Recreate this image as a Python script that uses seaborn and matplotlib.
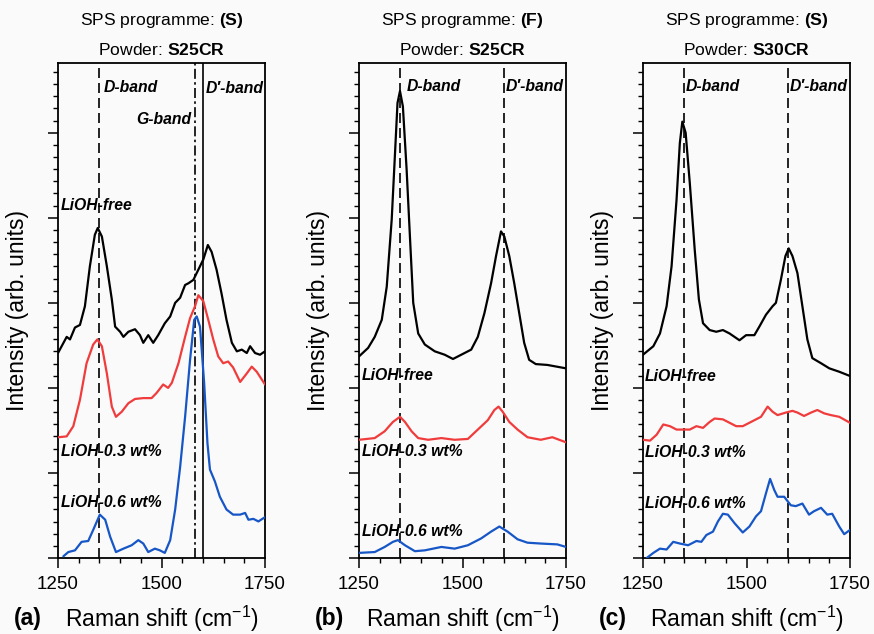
import numpy as np
import pandas as pd
import matplotlib
matplotlib.use("Agg")
import matplotlib.pyplot as plt
from matplotlib.ticker import MultipleLocator, AutoMinorLocator
import seaborn as sns

# ---------------- data ----------------
# Panel (a): SPS (S), powder S25CR
a_free_x = [1250, 1271, 1279, 1291, 1303, 1315, 1327, 1339, 1346, 1356, 1368, 1380, 1388, 1400, 1408,
            1420, 1436, 1448, 1456, 1468, 1480, 1492, 1508, 1521, 1533, 1545, 1557, 1565, 1577, 1589,
            1601, 1612, 1621, 1633, 1645, 1657, 1670, 1682, 1694, 1706, 1714, 1726, 1738, 1750]
a_free_y = [2.41, 2.60, 2.57, 2.71, 2.74, 2.96, 3.43, 3.80, 3.88, 3.78, 3.43, 3.04, 2.72, 2.66, 2.60,
            2.66, 2.69, 2.62, 2.53, 2.62, 2.53, 2.62, 2.76, 2.84, 3.00, 3.06, 3.21, 3.23, 3.27, 3.39,
            3.51, 3.68, 3.60, 3.39, 3.11, 2.80, 2.53, 2.43, 2.45, 2.41, 2.49, 2.41, 2.39, 2.43]
a_03_x = [1251, 1271, 1287, 1303, 1319, 1335, 1345, 1356, 1368, 1380, 1390, 1404, 1420, 1436, 1456,
          1476, 1488, 1504, 1516, 1525, 1541, 1557, 1569, 1581, 1589, 1601, 1613, 1625, 1637, 1649,
          1661, 1673, 1690, 1706, 1718, 1730, 1750]
a_03_y = [1.42, 1.43, 1.55, 1.86, 2.29, 2.51, 2.57, 2.49, 2.17, 1.78, 1.66, 1.72, 1.82, 1.87, 1.88,
          1.88, 1.94, 2.04, 2.00, 2.06, 2.29, 2.60, 2.82, 2.96, 3.09, 3.02, 2.80, 2.57, 2.37, 2.29,
          2.31, 2.24, 2.07, 2.17, 2.25, 2.19, 2.04]
a_06_x = [1263, 1275, 1291, 1307, 1323, 1335, 1351, 1364, 1376, 1390, 1408, 1428, 1444, 1456, 1468,
          1484, 1496, 1508, 1521, 1533, 1545, 1557, 1569, 1579, 1585, 1593, 1603, 1611, 1617, 1629,
          1641, 1657, 1673, 1690, 1702, 1710, 1722, 1734, 1750]
a_06_y = [0.02, 0.07, 0.09, 0.19, 0.20, 0.33, 0.51, 0.45, 0.25, 0.07, 0.11, 0.15, 0.21, 0.17, 0.07,
          0.11, 0.09, 0.06, 0.21, 0.57, 1.07, 1.66, 2.33, 2.80, 2.84, 2.72, 2.06, 1.35, 1.04, 0.90,
          0.72, 0.57, 0.51, 0.51, 0.53, 0.45, 0.46, 0.43, 0.48]

# Panel (b): SPS (F), powder S25CR
b_free_x = [1250, 1272, 1288, 1305, 1317, 1329, 1337, 1343, 1349, 1356, 1365, 1373, 1381, 1393, 1409,
            1433, 1457, 1477, 1497, 1521, 1537, 1553, 1569, 1581, 1593, 1601, 1613, 1625, 1637, 1649,
            1661, 1677, 1705, 1750]
b_free_y = [2.37, 2.47, 2.60, 2.80, 3.19, 3.98, 4.76, 5.35, 5.49, 5.31, 4.57, 3.78, 3.00, 2.64, 2.51,
            2.43, 2.39, 2.34, 2.39, 2.45, 2.60, 2.88, 3.23, 3.55, 3.84, 3.78, 3.55, 3.23, 2.88, 2.53,
            2.33, 2.28, 2.27, 2.23]
b_03_x = [1250, 1288, 1312, 1332, 1349, 1361, 1377, 1393, 1417, 1449, 1481, 1513, 1537, 1561, 1577,
          1587, 1597, 1613, 1633, 1657, 1689, 1717, 1750]
b_03_y = [1.39, 1.41, 1.49, 1.60, 1.66, 1.60, 1.49, 1.41, 1.39, 1.41, 1.39, 1.40, 1.51, 1.62, 1.74,
          1.78, 1.72, 1.60, 1.51, 1.42, 1.39, 1.42, 1.36]
b_06_x = [1250, 1288, 1312, 1332, 1344, 1361, 1385, 1409, 1449, 1481, 1513, 1545, 1569, 1589, 1609,
          1633, 1657, 1689, 1729, 1750]
b_06_y = [0.06, 0.07, 0.13, 0.19, 0.21, 0.15, 0.08, 0.09, 0.13, 0.11, 0.15, 0.23, 0.31, 0.37, 0.31,
          0.22, 0.18, 0.17, 0.16, 0.13]

# Panel (c): SPS (S), powder S30CR
c_free_x = [1250, 1275, 1291, 1307, 1319, 1331, 1339, 1345, 1353, 1363, 1375, 1385, 1395, 1411, 1427,
            1443, 1459, 1471, 1483, 1499, 1519, 1531, 1547, 1563, 1571, 1583, 1594, 1602, 1611, 1623,
            1635, 1647, 1659, 1680, 1700, 1724, 1750]
c_free_y = [2.39, 2.49, 2.64, 2.96, 3.43, 4.21, 4.88, 5.13, 5.00, 4.41, 3.62, 3.04, 2.76, 2.68, 2.66,
            2.68, 2.64, 2.60, 2.56, 2.62, 2.62, 2.72, 2.86, 2.96, 3.00, 3.27, 3.55, 3.64, 3.55, 3.35,
            2.96, 2.57, 2.35, 2.29, 2.23, 2.19, 2.14]
c_03_x = [1250, 1267, 1283, 1299, 1315, 1331, 1347, 1363, 1379, 1395, 1411, 1423, 1443, 1459, 1475,
          1491, 1507, 1523, 1535, 1551, 1563, 1575, 1595, 1611, 1623, 1639, 1656, 1671, 1688, 1704,
          1724, 1750]
c_03_y = [1.39, 1.38, 1.45, 1.57, 1.55, 1.51, 1.51, 1.51, 1.55, 1.53, 1.60, 1.64, 1.63, 1.59, 1.55,
          1.55, 1.59, 1.63, 1.66, 1.78, 1.72, 1.68, 1.71, 1.73, 1.71, 1.67, 1.71, 1.74, 1.70, 1.68,
          1.66, 1.59]
c_06_x = [1259, 1275, 1291, 1307, 1323, 1339, 1359, 1379, 1391, 1403, 1419, 1431, 1443, 1455, 1471,
          1491, 1507, 1523, 1535, 1547, 1557, 1567, 1575, 1591, 1607, 1619, 1635, 1651, 1663, 1680,
          1695, 1707, 1724, 1736, 1750]
c_06_y = [0.00, 0.06, 0.11, 0.10, 0.19, 0.17, 0.15, 0.20, 0.19, 0.27, 0.31, 0.43, 0.52, 0.51, 0.41,
          0.30, 0.37, 0.49, 0.55, 0.76, 0.93, 0.80, 0.72, 0.72, 0.62, 0.61, 0.64, 0.51, 0.55, 0.59,
          0.51, 0.52, 0.37, 0.28, 0.33]

samples = ["LiOH-free", "LiOH-0.3 wt%", "LiOH-0.6 wt%"]
colors = {"LiOH-free": "#000000", "LiOH-0.3 wt%": "#f03c3c", "LiOH-0.6 wt%": "#1656c6"}
programmes = ["S", "F", "S"]
powders = ["S25CR", "S25CR", "S30CR"]
panel_tags = ["(a)", "(b)", "(c)"]
xticks = [1250, 1500, 1750]

panels = [
    [(a_free_x, a_free_y), (a_03_x, a_03_y), (a_06_x, a_06_y)],
    [(b_free_x, b_free_y), (b_03_x, b_03_y), (b_06_x, b_06_y)],
    [(c_free_x, c_free_y), (c_03_x, c_03_y), (c_06_x, c_06_y)],
]

# ---------------- style ----------------
sns.set_theme(style="ticks")
FONT = ["Liberation Sans", "DejaVu Sans"]
plt.rcParams["font.family"] = FONT
plt.rcParams["mathtext.fontset"] = "custom"
plt.rcParams["mathtext.rm"] = "Liberation Sans"
plt.rcParams["mathtext.bf"] = "Liberation Sans:bold"
plt.rcParams["mathtext.it"] = "Liberation Sans:italic"
for key in ["text.color", "axes.labelcolor", "xtick.color", "ytick.color", "axes.edgecolor"]:
    plt.rcParams[key] = "black"
plt.rcParams["lines.solid_joinstyle"] = "round"
plt.rcParams["lines.solid_capstyle"] = "round"

BG = "#fafafa"
fig = plt.figure(figsize=(8.74, 6.34), dpi=100, facecolor=BG)
W, H = 874, 634
lefts = [58, 359, 643]
ax_w = 207
ax_top, ax_bot = 63, 558

lab_kw = dict(fontsize=11.3, fontweight="bold", fontstyle="italic", va="center", ha="left",
              color="black")

for i, ax_left in enumerate(lefts):
    ax = fig.add_axes([ax_left / W, 1 - ax_bot / H, ax_w / W, (ax_bot - ax_top) / H])
    ax.set_facecolor(BG)
    frames = []
    for s, (xs, ys) in zip(samples, panels[i]):
        frames.append(pd.DataFrame({"x": xs, "y": ys, "sample": s}))
    df = pd.concat(frames, ignore_index=True)
    sns.lineplot(data=df, x="x", y="y", hue="sample", palette=colors, hue_order=samples,
                 estimator=None, sort=False, legend=False, linewidth=1.6, ax=ax, zorder=3)
    for ln in ax.get_lines():
        ln.set_solid_joinstyle("round")

    # band markers
    ax.axvline(1350, color="black", lw=1.2, dashes=(6, 3), zorder=2)
    if i == 0:
        ax.axvline(1580, color="black", lw=1.2, dashes=(6, 2, 1.5, 2), zorder=2)
        ax.axvline(1600, color="black", lw=1.2, zorder=2)
    else:
        ax.axvline(1600, color="black", lw=1.2, dashes=(6, 3), zorder=2)

    ax.set_xlim(1250, 1750)
    ax.set_ylim(0, 5.82)
    ax.xaxis.set_major_locator(MultipleLocator(250))
    ax.xaxis.set_minor_locator(MultipleLocator(50))
    ax.yaxis.set_major_locator(MultipleLocator(1))
    ax.yaxis.set_minor_locator(AutoMinorLocator(7))
    ax.set_xticks(xticks)
    ax.tick_params(axis="both", which="major", direction="out", length=7, width=1.1,
                   color="black", labelcolor="black", labelsize=13.5, pad=6)
    ax.tick_params(axis="both", which="minor", direction="out", length=3.8, width=1.0, color="black")
    ax.tick_params(axis="y", which="both", labelleft=False)
    ax.tick_params(top=False, right=False, which="both")
    for sp in ax.spines.values():
        sp.set_visible(True)
        sp.set_linewidth(1.3)
        sp.set_color("black")

    ax.set_xlabel("Raman shift (cm$^{-1}$)", fontsize=16.5, labelpad=8, color="black")
    ax.set_ylabel("Intensity (arb. units)", fontsize=16.5, labelpad=14, color="black")

    # texts
    if i == 0:
        ax.text(1361, 5.53, "D-band", **lab_kw)
        ax.text(1571, 5.15, "G-band", **{**lab_kw, "ha": "right"})
        ax.text(1606, 5.52, "D\u2032-band", **lab_kw)
        ax.text(1257, 4.14, samples[0], **lab_kw)
        ax.text(1257, 1.25, samples[1], **lab_kw)
        ax.text(1257, 0.65, samples[2], **lab_kw)
    elif i == 1:
        ax.text(1366, 5.54, "D-band", **lab_kw)
        ax.text(1604, 5.54, "D\u2032-band", **lab_kw)
        ax.text(1257, 2.15, samples[0], **lab_kw)
        ax.text(1257, 1.25, samples[1], **lab_kw)
        ax.text(1257, 0.31, samples[2], **lab_kw)
    else:
        ax.text(1352, 5.54, "D-band", **lab_kw)
        ax.text(1604, 5.54, "D\u2032-band", **lab_kw)
        ax.text(1255, 2.13, samples[0], **lab_kw)
        ax.text(1255, 1.24, samples[1], **lab_kw)
        ax.text(1255, 0.64, samples[2], **lab_kw)

    cx = (ax_left + ax_w / 2) / W
    fig.text(cx, 1 - 20 / H, "SPS programme: $\\mathbf{(" + programmes[i] + ")}$",
             fontsize=12.6, ha="center", va="center", color="black")
    fig.text(cx, 1 - 50 / H, "Powder: $\\mathbf{" + powders[i] + "}$",
             fontsize=12.6, ha="center", va="center", color="black")
    fig.text((ax_left - 44) / W, 1 - 619 / H, panel_tags[i], fontsize=16.5, fontweight="bold",
             ha="left", va="center", color="black")

fig.savefig("out.png", dpi=100, facecolor=BG)
